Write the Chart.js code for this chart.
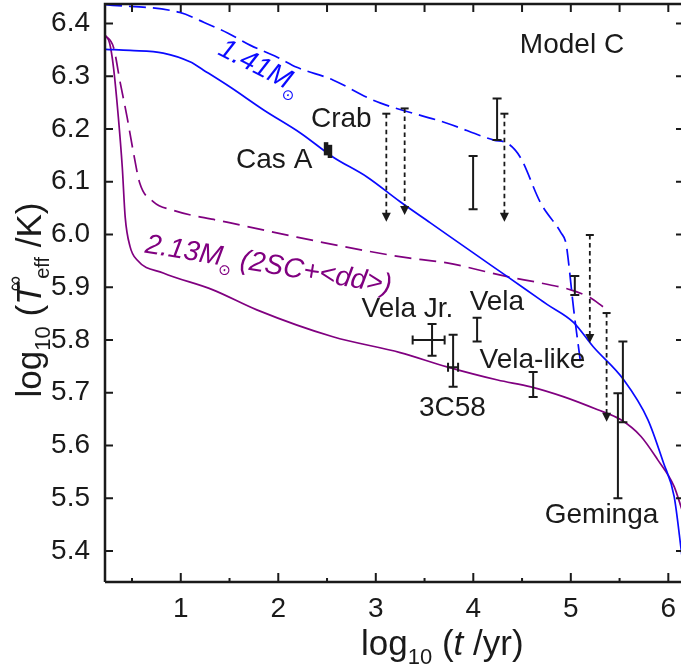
<!DOCTYPE html>
<html>
<head>
<meta charset="UTF-8">
<title>Model C cooling curves</title>
<script src="https://cdn.jsdelivr.net/npm/chart.js"></script>
</head>
<body style="margin:0; background:#fff;">
<canvas id="chart" width="681" height="668"></canvas>
<script>
// cooling curves, log10(t/yr) vs log10(Teff/K)
const blueSolidX = [0.23, 0.48, 0.82, 1.10, 1.23, 1.51, 1.85, 2.23, 2.56, 2.91, 3.25, 3.56, 4.00, 4.35, 4.69, 4.76, 5.03, 5.23, 5.54, 5.79, 5.95, 6.06, 6.14];
const blueSolidY = [6.351, 6.349, 6.344, 6.327, 6.312, 6.279, 6.236, 6.192, 6.147, 6.109, 6.062, 6.022, 5.965, 5.920, 5.876, 5.867, 5.833, 5.787, 5.725, 5.649, 5.567, 5.503, 5.390];

const blueDashX = [0.223, 0.99, 1.24, 1.48, 1.71, 1.99, 2.19, 2.56, 2.91, 3.05, 3.73, 4.21, 4.35, 4.48, 4.69, 4.90, 4.95, 4.97, 5.03, 5.10];
const blueDashY = [6.436, 6.421, 6.402, 6.382, 6.359, 6.336, 6.317, 6.293, 6.260, 6.249, 6.211, 6.179, 6.173, 6.147, 6.060, 6.003, 5.984, 5.958, 5.857, 5.757];

const purpleSolidX = [0.223, 0.27, 0.31, 0.36, 0.40, 0.43, 0.48, 0.55, 0.82, 1.33, 1.78, 2.56, 3.25, 3.73, 4.25, 4.59, 4.93, 5.27, 5.51, 5.72, 5.89, 6.06, 6.14];
const purpleSolidY = [6.378, 6.363, 6.317, 6.222, 6.128, 6.033, 5.977, 5.952, 5.927, 5.895, 5.857, 5.806, 5.776, 5.749, 5.724, 5.711, 5.692, 5.668, 5.649, 5.617, 5.573, 5.522, 5.478];

const purpleDashX = [0.223, 0.31, 0.38, 0.45, 0.51, 0.58, 0.72, 0.92, 1.51, 2.19, 2.87, 3.35, 3.73, 4.35, 4.69, 5.00, 5.20, 5.33];
const purpleDashY = [6.378, 6.355, 6.287, 6.222, 6.160, 6.097, 6.062, 6.046, 6.022, 5.995, 5.970, 5.955, 5.946, 5.920, 5.908, 5.895, 5.880, 5.863];

// observed temperatures: vertical error bars
const errX  = [4.244, 3.998, 5.041, 4.039, 3.577, 3.793, 4.614, 5.534, 5.483];
const errLo = [6.179, 6.048, 5.885, 5.797, 5.770, 5.711, 5.692, 5.644, 5.500];
const errHi = [6.258, 6.149, 5.921, 5.842, 5.830, 5.810, 5.739, 5.797, 5.699];
// horizontal error bars (age uncertainty)
const hErrY  = [5.800, 5.748];
const hErrLo = [3.378, 3.741];
const hErrHi = [3.706, 3.844];
// Cas A
const casAX  = [2.49, 2.53];
const casALo = [6.150, 6.145];
const casAHi = [6.175, 6.170];
// upper limits
const ulX   = [3.108, 3.296, 4.319, 5.195, 5.367];
const ulTop = [6.229, 6.239, 6.229, 5.999, 5.851];
const ulTip = [6.024, 6.037, 6.024, 5.794, 5.645];

const labelText = ['Model C', 'Crab', 'Cas A', 'Vela Jr.', 'Vela', 'Vela-like', '3C58', 'Geminga'];
const labelX    = [5.012, 2.646, 1.958, 3.325, 4.242, 4.607, 3.786, 5.315];
const labelY    = [6.344, 6.204, 6.126, 5.844, 5.857, 5.747, 5.655, 5.452];

const FONT = '"Liberation Sans", Arial, sans-serif';
const BLUE = '#0a0aff';
const PURPLE = '#800080';
const INK = '#1a1a1a';

function pts(xs, ys) { return xs.map((x, i) => ({ x: x, y: ys[i] })); }

function richWidth(ctx, parts) {
    let w = 0;
    parts.forEach(p => { ctx.font = p.font; w += (p.dx || 0) + ctx.measureText(p.t).width; });
    return w;
}

function rich(ctx, x, y, parts) {
    let cx = x;
    parts.forEach(p => {
        ctx.font = p.font;
        const dx = p.dx || 0;
        ctx.fillText(p.t, cx + dx, y + (p.dy || 0));
        cx += dx + ctx.measureText(p.t).width;
    });
}

const decorPlugin = {
    id: 'decor',
    afterDatasetsDraw(chart) {
        const ctx = chart.ctx;
        const xs = chart.scales.x, ys = chart.scales.y;
        const px = v => xs.getPixelForValue(v);
        const py = v => ys.getPixelForValue(v);
        ctx.save();
        ctx.strokeStyle = INK;
        ctx.fillStyle = INK;

        // error bars
        ctx.lineWidth = 2;
        errX.forEach((x, i) => {
            const X = px(x), a = py(errLo[i]), b = py(errHi[i]);
            ctx.beginPath();
            ctx.moveTo(X, a); ctx.lineTo(X, b);
            ctx.moveTo(X - 4.5, a); ctx.lineTo(X + 4.5, a);
            ctx.moveTo(X - 4.5, b); ctx.lineTo(X + 4.5, b);
            ctx.stroke();
        });
        hErrY.forEach((y, i) => {
            const Y = py(y), a = px(hErrLo[i]), b = px(hErrHi[i]);
            ctx.beginPath();
            ctx.moveTo(a, Y); ctx.lineTo(b, Y);
            ctx.moveTo(a, Y - 4.5); ctx.lineTo(a, Y + 4.5);
            ctx.moveTo(b, Y - 4.5); ctx.lineTo(b, Y + 4.5);
            ctx.stroke();
        });
        ctx.lineWidth = 4.5;
        casAX.forEach((x, i) => {
            const X = px(x), a = py(casALo[i]), b = py(casAHi[i]);
            ctx.beginPath();
            ctx.moveTo(X, a); ctx.lineTo(X, b);
            ctx.stroke();
        });

        // upper limits
        ulX.forEach((x, i) => {
            const X = px(x), t = py(ulTop[i]), tip = py(ulTip[i]);
            ctx.lineWidth = 2;
            ctx.setLineDash([]);
            ctx.beginPath();
            ctx.moveTo(X - 4, t); ctx.lineTo(X + 4, t);
            ctx.stroke();
            ctx.lineWidth = 1.8;
            ctx.setLineDash([4.5, 3.5]);
            ctx.beginPath();
            ctx.moveTo(X, t); ctx.lineTo(X, tip - 8);
            ctx.stroke();
            ctx.setLineDash([]);
            ctx.beginPath();
            ctx.moveTo(X - 4.5, tip - 9); ctx.lineTo(X + 4.5, tip - 9); ctx.lineTo(X, tip);
            ctx.closePath();
            ctx.fill();
        });

        // text labels
        ctx.font = '28px ' + FONT;
        ctx.textAlign = 'center';
        ctx.textBaseline = 'alphabetic';
        labelText.forEach((t, i) => ctx.fillText(t, px(labelX[i]), py(labelY[i])));

        // curve labels
        ctx.textAlign = 'left';
        ctx.save();
        ctx.fillStyle = BLUE;
        ctx.translate(px(1.37), py(6.342));
        ctx.rotate(27 * Math.PI / 180);
        rich(ctx, 0, 0, [
            { t: '1.41M', font: 'italic 28px ' + FONT },
            { t: '⊙', font: '15px "DejaVu Sans", sans-serif', dx: -2, dy: 9 }
        ]);
        ctx.restore();

        ctx.save();
        ctx.fillStyle = PURPLE;
        ctx.translate(px(0.625), py(5.966));
        ctx.rotate(9.5 * Math.PI / 180);
        rich(ctx, 0, 0, [
            { t: '2.13M', font: 'italic 28px ' + FONT },
            { t: '⊙', font: '15px "DejaVu Sans", sans-serif', dx: -2, dy: 9 },
            { t: ' (2SC+<dd>)', font: 'italic 28px ' + FONT }
        ]);
        ctx.restore();
        ctx.restore();
    },
    afterDraw(chart) {
        const ctx = chart.ctx;
        const a = chart.chartArea;
        const xs = chart.scales.x, ys = chart.scales.y;
        ctx.save();
        ctx.strokeStyle = INK;
        ctx.lineWidth = 2.5;
        ctx.beginPath();
        ctx.moveTo(a.left, a.bottom); ctx.lineTo(a.left, a.top);
        ctx.lineTo(a.right + 2, a.top);
        ctx.moveTo(a.left, a.bottom); ctx.lineTo(a.right + 2, a.bottom);
        ctx.stroke();

        ctx.lineWidth = 2;
        ctx.beginPath();
        for (let k = 1; k <= 12; k++) {
            const v = k / 2;
            const X = xs.getPixelForValue(v);
            if (X < a.left + 2 || X > a.right) continue;
            const len = (k % 2 === 0) ? 9 : 4;
            ctx.moveTo(X, a.bottom); ctx.lineTo(X, a.bottom - len);
            ctx.moveTo(X, a.top); ctx.lineTo(X, a.top + 8);
        }
        for (let k = 54; k <= 64; k++) {
            const Y = ys.getPixelForValue(k / 10);
            ctx.moveTo(a.left, Y); ctx.lineTo(a.left + 8, Y);
            ctx.moveTo(a.right, Y); ctx.lineTo(a.right - 5, Y);
        }
        ctx.stroke();

        // axis titles
        ctx.fillStyle = INK;
        ctx.textAlign = 'left';
        ctx.textBaseline = 'alphabetic';
        const xTitle = [
            { t: 'log', font: '35px ' + FONT },
            { t: '10', font: '22px ' + FONT, dy: 9 },
            { t: ' (', font: '35px ' + FONT },
            { t: 't', font: 'italic 35px ' + FONT },
            { t: ' /yr)', font: '35px ' + FONT }
        ];
        rich(ctx, 361, 655, xTitle);

        const yTitle = [
            { t: 'log', font: '35px ' + FONT },
            { t: '10', font: '22px ' + FONT, dy: 9 },
            { t: ' (', font: '35px ' + FONT },
            { t: 'T', font: 'italic 35px ' + FONT },
            { t: '∞', font: '22px ' + FONT, dx: -8, dy: -19 },
            { t: 'eff', font: '20px ' + FONT, dx: -3, dy: 8 },
            { t: ' /K)', font: '35px ' + FONT }
        ];
        const yw = richWidth(ctx, yTitle);
        ctx.save();
        ctx.translate(41, 300 + yw / 2);
        ctx.rotate(-Math.PI / 2);
        rich(ctx, 0, 0, yTitle);
        ctx.restore();
        ctx.restore();
    }
};

const lineStyle = (color, dash) => ({
    showLine: true,
    pointRadius: 0,
    borderColor: color,
    borderWidth: 1.7,
    borderDash: dash,
    cubicInterpolationMode: 'monotone',
    fill: false
});

new Chart(document.getElementById('chart').getContext('2d'), {
    type: 'scatter',
    data: {
        datasets: [
            Object.assign({ data: pts(blueSolidX, blueSolidY) }, lineStyle(BLUE, [])),
            Object.assign({ data: pts(blueDashX, blueDashY) }, lineStyle(BLUE, [17, 7])),
            Object.assign({ data: pts(purpleSolidX, purpleSolidY) }, lineStyle(PURPLE, [])),
            Object.assign({ data: pts(purpleDashX, purpleDashY) }, lineStyle(PURPLE, [17, 8]))
        ]
    },
    options: {
        responsive: false,
        animation: false,
        layout: { padding: { top: 4, right: 0, bottom: 0, left: 0 } },
        plugins: { legend: { display: false }, tooltip: { enabled: false } },
        scales: {
            x: {
                type: 'linear',
                min: 0.223,
                max: 6.13,
                grid: { display: false, drawTicks: false },
                border: { display: false },
                ticks: {
                    stepSize: 1,
                    includeBounds: false,
                    autoSkip: false,
                    maxRotation: 0,
                    padding: 10,
                    color: INK,
                    font: { family: FONT, size: 28 },
                    callback: v => String(v)
                },
                afterFit: s => { s.height = 86; s.paddingLeft = 0; s.paddingRight = 0; }
            },
            y: {
                type: 'linear',
                min: 5.341,
                max: 6.437,
                grid: { display: false, drawTicks: false },
                border: { display: false },
                ticks: {
                    stepSize: 0.1,
                    includeBounds: false,
                    autoSkip: false,
                    padding: 15,
                    color: INK,
                    font: { family: FONT, size: 28 },
                    callback: v => v.toFixed(1)
                },
                afterFit: s => { s.width = 105; s.paddingTop = 0; s.paddingBottom = 0; }
            }
        }
    },
    plugins: [decorPlugin]
});
</script>
</body>
</html>
